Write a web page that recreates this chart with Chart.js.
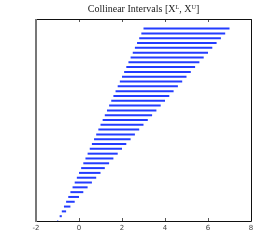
<!DOCTYPE html>
<html>
<head>
<meta charset="utf-8">
<script src="https://cdn.jsdelivr.net/npm/chart.js@4.4.0/dist/chart.umd.min.js"></script>
<style>
  html, body { margin: 0; padding: 0; background: #fff; }
</style>
</head>
<body>
<canvas id="c" width="277" height="249"></canvas>
<script>
// interval end points, bottom row first
const lower = [-1.0, -0.9, -0.8, -0.7, -0.6, -0.5, -0.4, -0.3, -0.2, -0.1,
  0.0, 0.1, 0.2, 0.3, 0.4, 0.5, 0.6, 0.7, 0.8, 0.9,
  1.0, 1.1, 1.2, 1.3, 1.4, 1.5, 1.6, 1.7, 1.8, 1.9,
  2.0, 2.1, 2.2, 2.3, 2.4, 2.5, 2.6, 2.7, 2.8, 2.9, 3.0];
const upper = [-0.97, -0.8, -0.6, -0.4, -0.2, 0.0, 0.2, 0.4, 0.6, 0.8,
  1.0, 1.2, 1.4, 1.6, 1.8, 2.0, 2.2, 2.4, 2.6, 2.8,
  3.0, 3.2, 3.4, 3.6, 3.8, 4.0, 4.2, 4.4, 4.6, 4.8,
  5.0, 5.2, 5.4, 5.6, 5.8, 6.0, 6.2, 6.4, 6.6, 6.8, 7.0];
const xTicks = [-2, 0, 2, 4, 6, 8];

const barColor = "rgb(35,60,255)";

// one short line per interval
const datasets = lower.map((lo, i) => ({
  data: [{ x: lo, y: i }, { x: upper[i], y: i }],
  borderColor: barColor,
  borderWidth: 2,
  borderCapStyle: "butt",
  pointRadius: 0,
  showLine: true,
}));

// box around the plot + inward ticks
const frame = {
  id: "frame",
  afterDraw(chart) {
    const { ctx, chartArea: a, scales } = chart;
    ctx.save();
    ctx.lineWidth = 1;
    ctx.strokeStyle = "#555";
    xTicks.forEach((v) => {
      const px = Math.round(scales.x.getPixelForValue(v)) + 0.5;
      ctx.beginPath();
      ctx.moveTo(px, a.bottom);
      ctx.lineTo(px, a.bottom - 3);
      ctx.moveTo(px, a.top);
      ctx.lineTo(px, a.top + 3);
      ctx.stroke();
    });
    ctx.strokeStyle = "#111";
    ctx.beginPath();
    ctx.moveTo(a.left, a.top + 0.5);
    ctx.lineTo(a.right + 0.5, a.top + 0.5);
    ctx.lineTo(a.right + 0.5, a.bottom + 0.5);
    ctx.lineTo(a.left, a.bottom + 0.5);
    ctx.stroke();
    ctx.strokeStyle = "#777";
    ctx.lineWidth = 2;
    ctx.beginPath();
    ctx.moveTo(a.left, a.top);
    ctx.lineTo(a.left, a.bottom + 1);
    ctx.stroke();
    ctx.restore();
  },
};

new Chart(document.getElementById("c"), {
  type: "scatter",
  data: { datasets },
  options: {
    responsive: false,
    animation: false,
    layout: { padding: { left: 36, right: 26, top: 0, bottom: 0 } },
    plugins: {
      legend: { display: false },
      tooltip: { enabled: false },
      title: {
        display: true,
        text: "Collinear Intervals [X\u1D38, X\u1D41]",
        color: "#222",
        font: { family: "'Liberation Serif', serif", size: 10, weight: "normal" },
        padding: { top: 3, bottom: 4 },
      },
    },
    scales: {
      x: {
        type: "linear",
        min: -2,
        max: 8,
        afterBuildTicks: (s) => { s.ticks = xTicks.map((v) => ({ value: v })); },
        afterFit: (s) => { s.height = 28; },
        grid: { display: false, drawTicks: false },
        border: { display: false },
        ticks: {
          padding: 3,
          color: "#444",
          font: { family: "'DejaVu Sans', sans-serif", size: 7 },
        },
      },
      y: {
        type: "linear",
        min: 0,
        max: 42,
        display: false,
      },
    },
  },
  plugins: [frame],
});
</script>
</body>
</html>
